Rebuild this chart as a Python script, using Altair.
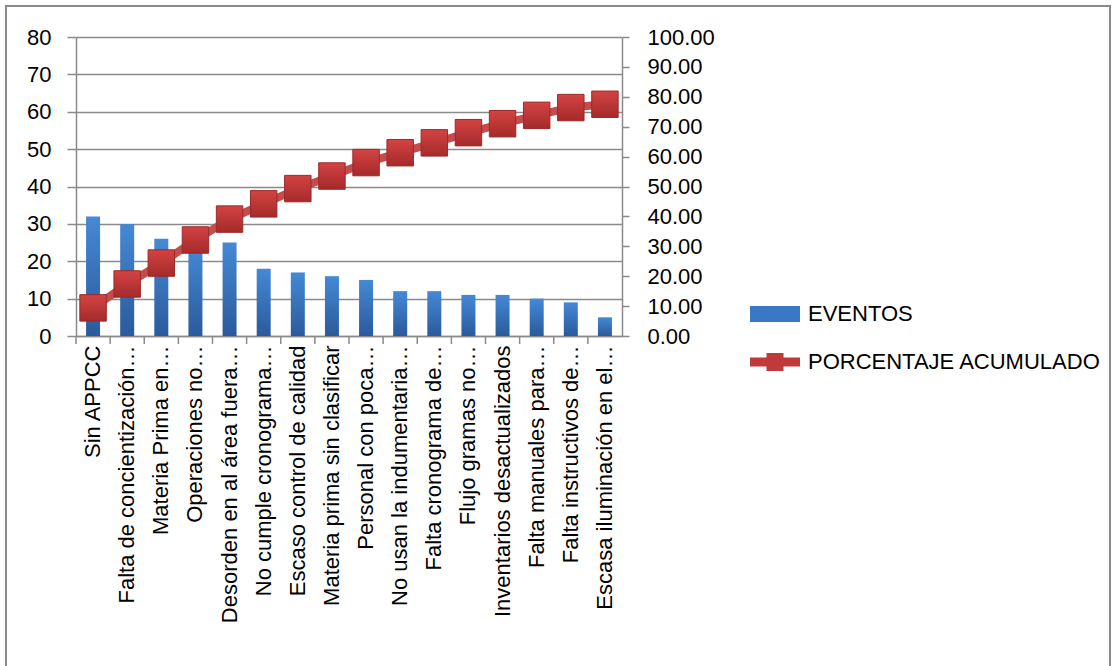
import altair as alt
import pandas as pd

# Causes (Pareto order), event counts and cumulative percentage
categorias = [
    "Sin APPCC",
    "Falta de concientización…",
    "Materia Prima en…",
    "Operaciones no…",
    "Desorden en al área fuera…",
    "No cumple cronograma…",
    "Escaso control de calidad",
    "Materia prima sin clasificar",
    "Personal con poca…",
    "No usan la indumentaria…",
    "Falta cronograma de…",
    "Flujo gramas no…",
    "Inventarios desactualizados",
    "Falta manuales para…",
    "Falta instructivos de…",
    "Escasa iluminación en el…",
]
eventos = [32, 30, 26, 24, 25, 18, 17, 16, 15, 12, 12, 11, 11, 10, 9, 5]
porcentaje_acumulado = [9.4, 17.4, 24.4, 32.1, 39.1, 44.2, 49.3, 53.5,
                        58.0, 61.3, 64.6, 68.0, 71.0, 73.8, 76.4, 77.5]
series = ["EVENTOS", "PORCENTAJE ACUMULADO"]
ticks_izq = list(range(0, 81, 10))
ticks_der = list(range(0, 101, 10))

df = pd.DataFrame({"causa": categorias, "eventos": eventos,
                   "acumulado": porcentaje_acumulado})
leyenda_df = pd.DataFrame({"serie": series})

FONT = "Liberation Sans"
GRIS = "#8a8a8a"
AZUL = "#3a78c6"
ROJO = "#c0393b"

x_scale = alt.Scale(type="band", paddingInner=0, paddingOuter=0)

grad_barra = alt.Gradient(
    gradient="linear", x1=0, y1=0, x2=0, y2=1,
    stops=[alt.GradientStop(color="#4589d6", offset=0),
           alt.GradientStop(color="#2a5a9b", offset=1)],
)
grad_punto = alt.Gradient(
    gradient="linear", x1=0, y1=0, x2=0, y2=1,
    stops=[alt.GradientStop(color="#d44343", offset=0),
           alt.GradientStop(color="#a52a2a", offset=1)],
)

x_enc = alt.X(
    "causa:N", sort=categorias, scale=x_scale, title=None,
    axis=alt.Axis(labelAngle=-90, ticks=False, labelPadding=9,
                  labelFontSize=22, labelFont=FONT, labelColor="black",
                  labelLimit=500, domainColor=GRIS, domainWidth=1.5),
)

barras = alt.Chart(df).mark_bar(size=14, fill=grad_barra).encode(
    x=x_enc,
    y=alt.Y("eventos:Q", scale=alt.Scale(domain=[0, 80], nice=False), title=None,
            axis=alt.Axis(values=ticks_izq, grid=True, gridColor=GRIS, gridWidth=1.5,
                          tickColor=GRIS, tickSize=9, tickWidth=1.5,
                          domainColor=GRIS, domainWidth=1.5,
                          labelFontSize=22, labelFont=FONT, labelColor="black",
                          labelPadding=16)),
)

y_der = alt.Y("acumulado:Q", scale=alt.Scale(domain=[0, 100], nice=False), title=None,
              axis=alt.Axis(orient="right", values=ticks_der, format=".2f", grid=False,
                            tickColor=GRIS, tickSize=7, tickWidth=1.5,
                            domainColor=GRIS, domainWidth=1.5,
                            labelFontSize=22, labelFont=FONT, labelColor="black",
                            labelPadding=18))

linea = alt.Chart(df).mark_line(color="#c44c4c", strokeWidth=8).encode(
    x=alt.X("causa:N", sort=categorias, scale=x_scale), y=y_der)
puntos = alt.Chart(df).mark_point(shape="square", size=700, filled=True,
                                  fill=grad_punto, stroke="#9a2a2a",
                                  strokeWidth=1, opacity=1).encode(
    x=alt.X("causa:N", sort=categorias, scale=x_scale), y=y_der)

ejes = alt.layer(linea, puntos)

# Category separator ticks below the x axis
separadores = alt.Chart(df).mark_rule(color=GRIS, strokeWidth=1.5).encode(
    x=alt.X("causa:N", sort=categorias, scale=x_scale, bandPosition=0),
    y=alt.value(299), y2=alt.value(307),
)

# Legend with a bar swatch and a line-with-marker symbol
simbolos = ["M-1,-0.32H1V0.32H-1Z",
            "M-1,-0.18H1V0.18H-1Z M-0.34,-0.36H0.34V0.36H-0.34Z"]
props_leyenda = dict(title=None, orient="none", legendX=674, legendY=252,
                     symbolSize=2500, symbolStrokeWidth=0, symbolOpacity=1,
                     labelFontSize=22, labelFont=FONT, labelColor="black",
                     labelOffset=8, rowPadding=12, labelLimit=400)
leyenda = alt.Chart(leyenda_df).mark_point(filled=True, opacity=0, size=2500).encode(
    x=alt.value(0), y=alt.value(0),
    color=alt.Color("serie:N", scale=alt.Scale(domain=series, range=[AZUL, ROJO]),
                    legend=alt.Legend(**props_leyenda)),
    shape=alt.Shape("serie:N", scale=alt.Scale(domain=series, range=simbolos),
                    legend=alt.Legend(**props_leyenda)),
)

marco = alt.Chart(pd.DataFrame({"k": [0]})).mark_rect(
    fillOpacity=0, stroke=GRIS, strokeWidth=2).encode(
    x=alt.value(-70), x2=alt.value(1034), y=alt.value(-31), y2=alt.value(700))

chart = alt.layer(barras, ejes, separadores, leyenda, marco).resolve_scale(
    y="independent"
).properties(
    width=546, height=299,
    autosize=alt.AutoSizeParams(type="none"),
    padding={"left": 76, "top": 37, "right": 494, "bottom": 330},
    background="white",
).configure_view(stroke=None)

chart.save("out.html", embed_options={"renderer": "svg", "actions": False})
